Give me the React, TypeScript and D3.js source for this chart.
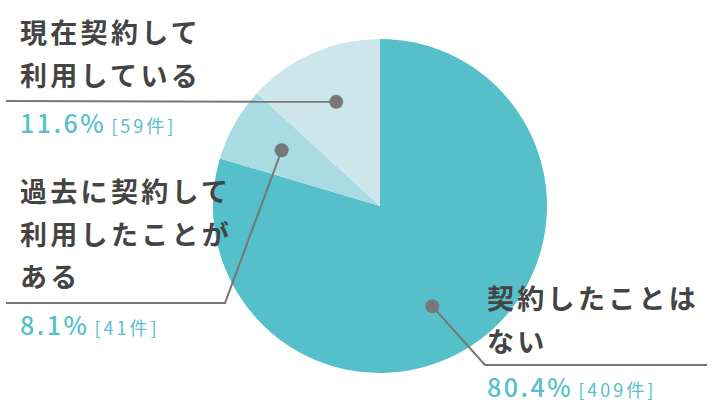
import React, { useEffect, useRef } from 'react';
import * as d3 from 'd3';

// 契約状況
const categories = ['契約したことはない', '過去に契約して利用したことがある', '現在契約して利用している'];
const counts = [409, 41, 59];
// slice shares as drawn in the picture (%)
const sliceShares = [79.6, 7.2, 13.2];
const percents = ['80.4%', '8.1%', '11.6%'];
const countLabels = counts.map(c => `[${c}件]`);
const labelLines = [['契約したことは', 'ない'], ['過去に契約して', '利用したことが', 'ある'], ['現在契約して', '利用している']];
const colors = ['#55bfca', '#a8dbe2', '#cde6eb'];

const W = 728;
const H = 409;

const App: React.FC = () => {
  const svgRef = useRef<SVGSVGElement>(null);

  useEffect(() => {
    document.body.style.margin = '0';
    if (!svgRef.current) return;
    const svg = d3.select(svgRef.current);
    svg.selectAll('*').remove();

    const cx = 380;
    const cy = 206;
    const radius = 167;

    const g = svg.append('g').attr('transform', `translate(${cx},${cy})`);

    const pie = d3.pie<number>().sort(null).value(d => d);
    const arcs = pie(sliceShares);
    const arc = d3.arc<d3.PieArcDatum<number>>().innerRadius(0).outerRadius(radius);

    g.selectAll('path.slice')
      .data(arcs)
      .enter()
      .append('path')
      .attr('class', 'slice')
      .attr('d', arc)
      .attr('fill', (_, i) => colors[i]);

    const font = "'Noto Sans CJK JP', 'Noto Sans', sans-serif";
    const textColor = '#444';
    const lineColor = '#777';

    // label blocks: text x, first baseline, underline y, underline extent, dot placement in slice
    const layout = [
      { x: 487, y0: 309, lineY: 365, lx0: 485, lx1: 707, side: 'right', dotFrac: 0.532 },
      { x: 20, y0: 202, lineY: 303, lx0: 6, lx1: 225, side: 'left', dotFrac: 0.5 },
      { x: 20, y0: 43, lineY: 101, lx0: 6, lx1: 6, side: 'left', dotFrac: 0.52 },
    ];
    const dotR = 113;

    arcs.forEach((a, i) => {
      const L = layout[i];
      const ang = a.startAngle + (a.endAngle - a.startAngle) * L.dotFrac;
      const px = cx + dotR * Math.sin(ang);
      const py = cy - dotR * Math.cos(ang);

      let pts: [number, number][];
      if (L.side === 'right') {
        pts = [[px, py], [L.lx0, L.lineY], [L.lx1, L.lineY]];
      } else if (L.lx1 > L.lx0) {
        pts = [[L.lx0, L.lineY], [L.lx1, L.lineY], [px, py]];
      } else {
        pts = [[L.lx0, L.lineY], [px, py]];
      }

      svg.append('path')
        .attr('d', d3.line()(pts))
        .attr('fill', 'none')
        .attr('stroke', lineColor)
        .attr('stroke-width', 2);

      svg.append('circle')
        .attr('cx', px)
        .attr('cy', py)
        .attr('r', 7)
        .attr('fill', lineColor);

      labelLines[i].forEach((t, j) => {
        svg.append('text')
          .attr('x', L.x)
          .attr('y', L.y0 + j * 42.5)
          .attr('font-family', font)
          .attr('font-size', 27)
          .attr('font-weight', 600)
          .attr('letter-spacing', 3.3)
          .attr('fill', textColor)
          .text(t);
      });

      const pt = svg.append('text')
        .attr('x', L.x)
        .attr('y', L.lineY + 32)
        .attr('font-family', font)
        .attr('fill', '#55bfca');
      pt.append('tspan')
        .attr('font-size', 25)
        .attr('font-weight', 500)
        .attr('letter-spacing', 2.5)
        .text(percents[i]);
      pt.append('tspan')
        .attr('dx', 5)
        .attr('font-size', 18)
        .attr('letter-spacing', 3)
        .text(countLabels[i]);
    });

    svg.append('title').text(categories.join(' / '));
  }, []);

  return <svg ref={svgRef} width={W} height={H} style={{ display: 'block', background: '#fff' }} />;
};

export default App;
